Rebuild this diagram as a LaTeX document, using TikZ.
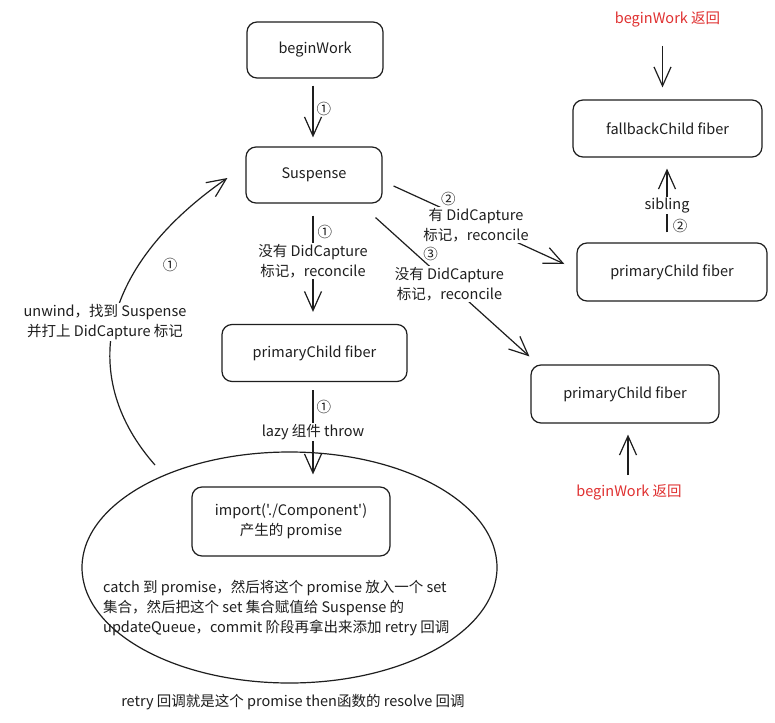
\documentclass[tikz,border=0pt]{standalone}
\usepackage{fontspec}
\newfontfamily\hand{Noto Sans CJK SC}
\usetikzlibrary{arrows.meta,shapes.geometric}
\definecolor{ink}{HTML}{1E1E1E}
\definecolor{redtxt}{HTML}{E03131}
\begin{document}
\begin{tikzpicture}[x=1pt,y=-1pt,
  font=\hand\fontsize{14.5}{20}\selectfont,
  box/.style={draw=ink, line width=1.2pt, rounded corners=10pt, align=center, inner sep=0pt, text=ink},
  arr/.style={draw=ink, line width=1.2pt, -{Straight Barb[length=19pt,width=17pt,line width=1.2pt]}},
  lbl/.style={fill=white, align=center, inner sep=1pt, text=ink},
  num/.style={inner sep=0pt, text=ink},
  redlbl/.style={text=redtxt, inner sep=1pt}]
\useasboundingbox (0,0) rectangle (775,722);
\fill[white] (0,0) rectangle (775,722);

% boxes
\node[box, minimum width=136pt, minimum height=56pt] (bw) at (315,50) {beginWork};
\node[box, minimum width=136pt, minimum height=56pt] (susp) at (314,175) {Suspense};
\node[box, minimum width=185pt, minimum height=57pt] (pcl) at (314.5,353) {primaryChild fiber};
\node[box, minimum width=189pt, minimum height=57pt] (fb) at (667.5,128.5) {fallbackChild fiber};
\node[box, minimum width=190pt, minimum height=58pt] (pcr) at (672,272) {primaryChild fiber};
\node[box, minimum width=188pt, minimum height=58pt] (pcb) at (625,394) {primaryChild fiber};
\node[ellipse, draw=ink, line width=1.2pt, minimum width=415pt, minimum height=231pt, inner sep=0pt] (ell) at (289.5,567.5) {};
\node[box, minimum width=198pt, minimum height=69pt] (imp) at (291,521.5) {import('./Component')\\产生的 promise};

% red labels
\node[redlbl] (rtop) at (667.5,19) {beginWork 返回};
\node[redlbl] (rbot) at (629,492) {beginWork 返回};

% beginWork -> Suspense
\draw[arr] ([xshift=-2pt,yshift=-7pt]bw.south) -- ([xshift=-1pt,yshift=9pt]susp.north)
  node[num, pos=0.45, right=3pt] {①};

% Suspense -> primaryChild (left)
\draw[arr] ([xshift=-1pt,yshift=-12pt]susp.south) -- ([xshift=-1.5pt,yshift=12pt]pcl.north)
  node[lbl, pos=0.47] {没有 DidCapture\\标记，reconcile}
  node[num, pos=0.17, right=4pt] {①};

% Suspense -> primaryChild (right top)
\draw[arr] ([xshift=11pt,yshift=-11pt]susp.east) -- ([xshift=-12pt,yshift=8pt]pcr.west)
  node[lbl, midway, xshift=-3pt] {有 DidCapture\\标记，reconcile}
  node[num, pos=0.32, yshift=12pt] {②};

% Suspense -> primaryChild (right bottom)
\draw[arr] ([xshift=-7pt,yshift=-14pt]susp.south east) -- ([xshift=-1pt,yshift=8pt]pcb.north west)
  node[lbl, pos=0.48] {没有 DidCapture\\标记，reconcile}
  node[num, pos=0.26, xshift=15pt] {③};

% primaryChild (left) -> import
\draw[arr] ([xshift=-1.5pt,yshift=-8pt]pcl.south) -- ([xshift=22pt,yshift=12pt]imp.north)
  node[lbl, pos=0.5] {lazy 组件 throw}
  node[num, pos=0.2, right=3pt] {①};

% unwind curve
\coordinate (uw) at (155,465);
\draw[arr] (uw) .. controls (80,380) and (95,270) .. ([xshift=-18pt,yshift=-3pt]susp.west);
\node[lbl] (uwl) at (105,322) {unwind，找到 Suspense\\并打上 DidCapture 标记};
\node[num] (uwn) at (170,265) {①};

% red arrows
\draw[arr] ([xshift=-5pt,yshift=-18pt]rtop.south) -- ([xshift=-5pt,yshift=12pt]fb.north);
\draw[arr] ([xshift=-1pt,yshift=8pt]rbot.north) -- ([xshift=3pt,yshift=-11pt]pcb.south);

% sibling
\draw[arr] ([xshift=-5pt,yshift=10pt]pcr.north) -- ([xshift=-0.5pt,yshift=-11pt]fb.south)
  node[lbl, pos=0.42] {sibling};
\node[num] (n2s) at (680,226) {②};

% texts in ellipse
\node[anchor=west, align=left, inner sep=0pt, text=ink] (etext) at (103,608)
  {catch 到 promise，然后将这个 promise 放入一个 set\\集合，然后把这个 set 集合赋值给 Suspense 的\\updateQueue，commit 阶段再拿出来添加 retry 回调};

\node[text=ink, inner sep=0pt] (note) at (293,702) {retry 回调就是这个 promise then函数的 resolve 回调};
\end{tikzpicture}
\end{document}
